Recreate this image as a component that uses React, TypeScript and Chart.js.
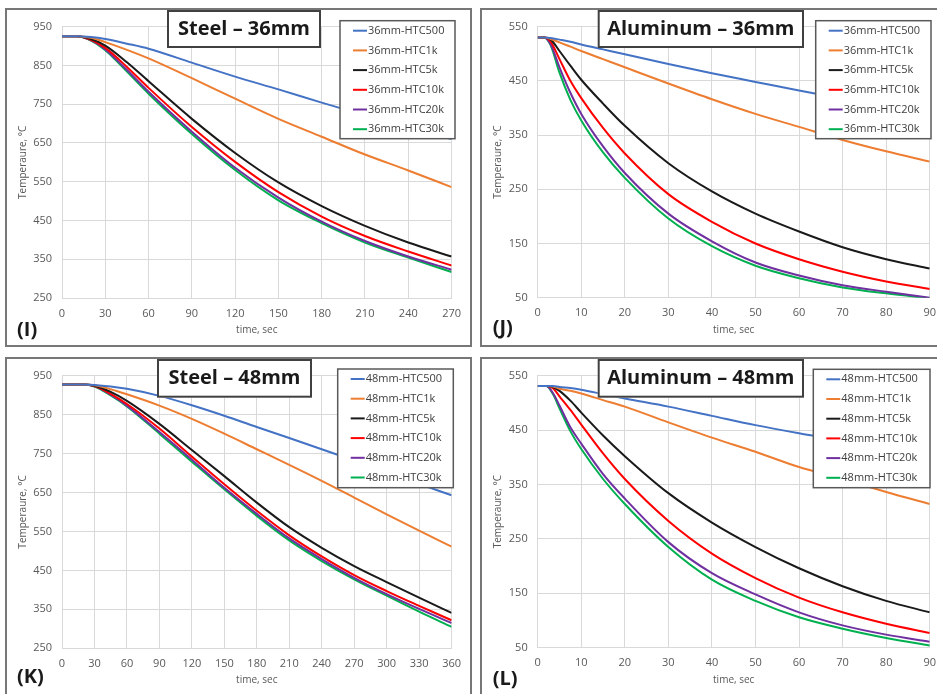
import React, { useEffect, useRef } from "react";
import { Chart, registerables } from "chart.js";

Chart.register(...registerables);

// ---------- DATA ----------
const htcLabels = ["HTC500", "HTC1k", "HTC5k", "HTC10k", "HTC20k", "HTC30k"];
const htcColors = ["#4472C4", "#ED7D31", "#1a1a1a", "#FF0000", "#7030A0", "#00B050"];

// Steel 36mm (time, sec)
const steel36Time = [0, 10, 20, 30, 45, 60, 90, 120, 150, 180, 210, 240, 270];
const steel36HTC500 = [925, 925, 923, 918, 906, 893, 857, 821, 788, 754, 721, 690, 660];
const steel36HTC1k = [925, 925, 921, 910, 890, 868, 817, 764, 712, 666, 620, 579, 536];
const steel36HTC5k = [925, 925, 918, 901, 858, 809, 712, 624, 548, 487, 436, 393, 357];
const steel36HTC10k = [925, 925, 916, 895, 846, 792, 691, 601, 523, 460, 410, 370, 334];
const steel36HTC20k = [925, 925, 915, 891, 838, 782, 679, 586, 509, 447, 397, 357, 323];
const steel36HTC30k = [925, 925, 914, 889, 834, 777, 673, 580, 502, 443, 393, 354, 317];

// Aluminum 36mm
const alu36Time = [0, 1.5, 3, 5, 7.5, 10, 15, 20, 30, 40, 50, 60, 70, 80, 90];
const alu36HTC500 = [530, 530, 529, 526, 522, 517, 508, 499, 481, 464, 448, 432, 417, 403, 389];
const alu36HTC1k = [530, 530, 527, 521, 513, 505, 490, 475, 445, 416, 389, 365, 341, 320, 301];
const alu36HTC5k = [530, 530, 526, 505, 478, 452, 408, 367, 298, 246, 205, 172, 143, 121, 104];
const alu36HTC10k = [530, 530, 522, 490, 450, 418, 363, 316, 241, 190, 150, 121, 98, 80, 66];
const alu36HTC20k = [530, 530, 517, 475, 428, 389, 329, 280, 205, 154, 115, 91, 73, 61, 50];
const alu36HTC30k = [530, 530, 515, 465, 415, 377, 318, 271, 196, 145, 109, 86, 69, 58, 49];

// Steel 48mm
const steel48Time = [0, 20, 30, 45, 60, 90, 120, 150, 180, 210, 240, 270, 300, 330, 360];
const steel48HTC500 = [927, 927, 926, 922, 916, 898, 874, 847, 818, 790, 761, 732, 702, 672, 643];
const steel48HTC1k = [927, 927, 925, 915, 902, 873, 839, 801, 761, 721, 680, 637, 594, 552, 511];
const steel48HTC5k = [927, 927, 924, 908, 885, 826, 759, 692, 624, 561, 508, 461, 420, 380, 341];
const steel48HTC10k = [927, 927, 923, 903, 877, 814, 742, 671, 603, 540, 486, 438, 397, 359, 322];
const steel48HTC20k = [927, 927, 923, 901, 873, 805, 734, 662, 595, 532, 479, 431, 389, 351, 315];
const steel48HTC30k = [927, 927, 922, 899, 871, 801, 729, 658, 590, 527, 474, 427, 385, 344, 305];

// Aluminum 48mm
const alu48Time = [0, 2, 3.5, 5, 7.5, 10, 15, 20, 30, 40, 50, 60, 70, 80, 90];
const alu48HTC500 = [531, 531, 531, 529, 527, 524, 516, 508, 493, 476, 459, 444, 430, 414, 398];
const alu48HTC1k = [531, 531, 530, 526, 522, 517, 505, 493, 464, 436, 410, 382, 360, 336, 314];
const alu48HTC5k = [531, 531, 529, 522, 504, 482, 440, 402, 334, 280, 235, 196, 163, 136, 115];
const alu48HTC10k = [531, 531, 527, 512, 487, 460, 407, 360, 283, 223, 178, 142, 115, 94, 77];
const alu48HTC20k = [531, 531, 518, 495, 455, 425, 369, 324, 244, 187, 148, 115, 91, 74, 61];
const alu48HTC30k = [531, 531, 516, 490, 448, 415, 360, 314, 235, 175, 136, 106, 85, 68, 54];

// ---------- LAYOUT / STYLE ----------
type Panel = {
  key: string;
  title: string;
  tag: string;
  prefix: string;
  time: number[];
  series: number[][];
  xMax: number;
  xStep: number;
  yMin: number;
  yMax: number;
  box: [number, number];
  pad: { top: number; right: number; bottom: number };
  yAxisW: number;
  titleBox: [number, number, number, number];
  legendBox: [number, number, number, number];
  tagPos: [number, number];
};

const panels: Panel[] = [
  {
    key: "I", title: "Steel \u2013 36mm", tag: "(I)", prefix: "36mm-",
    time: steel36Time,
    series: [steel36HTC500, steel36HTC1k, steel36HTC5k, steel36HTC10k, steel36HTC20k, steel36HTC30k],
    xMax: 270, xStep: 30, yMin: 250, yMax: 950,
    box: [5, 8], pad: { top: 10.7, right: 17, bottom: 7 }, yAxisW: 55,
    titleBox: [160, 0, 154, 38], legendBox: [333, 10.7, 115, 118], tagPos: [10, 320],
  },
  {
    key: "J", title: "Aluminum \u2013 36mm", tag: "(J)", prefix: "36mm-",
    time: alu36Time,
    series: [alu36HTC500, alu36HTC1k, alu36HTC5k, alu36HTC10k, alu36HTC20k, alu36HTC30k],
    xMax: 90, xStep: 10, yMin: 50, yMax: 550,
    box: [480, 8], pad: { top: 10, right: 12.3, bottom: 7.3 }, yAxisW: 55.7,
    titleBox: [115.7, 0, 206.3, 38], legendBox: [333.7, 10.7, 115.3, 118], tagPos: [10.7, 318],
  },
  {
    key: "K", title: "Steel \u2013 48mm", tag: "(K)", prefix: "48mm-",
    time: steel48Time,
    series: [steel48HTC500, steel48HTC1k, steel48HTC5k, steel48HTC10k, steel48HTC20k, steel48HTC30k],
    xMax: 360, xStep: 30, yMin: 250, yMax: 950,
    box: [5, 357], pad: { top: 12, right: 17, bottom: 5.7 }, yAxisW: 55,
    titleBox: [150, 0, 155, 38.7], legendBox: [330.7, 10, 115.6, 118.7], tagPos: [10, 318.5],
  },
  {
    key: "L", title: "Aluminum \u2013 48mm", tag: "(L)", prefix: "48mm-",
    time: alu48Time,
    series: [alu48HTC500, alu48HTC1k, alu48HTC5k, alu48HTC10k, alu48HTC20k, alu48HTC30k],
    xMax: 90, xStep: 10, yMin: 50, yMax: 550,
    box: [480, 357], pad: { top: 11, right: 12.3, bottom: 6.3 }, yAxisW: 55.7,
    titleBox: [115.7, 0, 206.3, 38.7], legendBox: [331.3, 10.3, 116.7, 118.4], tagPos: [10.7, 320],
  },
];

const CANVAS_W = 463;
const CANVAS_H = 335;
const X_AXIS_H = 40;
const FONT = '"Open Sans", "DejaVu Sans", sans-serif';
const TICK_COLOR = "#595959";
const GRID_COLOR = "#d9d9d9";

const overlayPlugin = {
  id: "overlay",
  afterDraw(chart: any, _args: any, o: any) {
    const ctx = chart.ctx as CanvasRenderingContext2D;
    ctx.save();
    // legend box
    const [lx, ly, lw, lh] = o.legendBox;
    ctx.fillStyle = "#ffffff";
    ctx.fillRect(lx, ly, lw, lh);
    ctx.strokeStyle = "#595959";
    ctx.lineWidth = 1.5;
    ctx.strokeRect(lx, ly, lw, lh);
    ctx.font = `11px ${FONT}`;
    ctx.textBaseline = "middle";
    ctx.textAlign = "left";
    chart.data.datasets.forEach((ds: any, i: number) => {
      const y = ly + 10 + i * 19.7;
      ctx.strokeStyle = ds.borderColor;
      ctx.lineWidth = 2;
      ctx.beginPath();
      ctx.moveTo(lx + 13, y);
      ctx.lineTo(lx + 27, y);
      ctx.stroke();
      ctx.fillStyle = "#404040";
      ctx.fillText(ds.label, lx + 28, y);
    });
    // title box
    const [tx, ty, tw, th] = o.titleBox;
    ctx.fillStyle = "#ffffff";
    ctx.fillRect(tx, ty, tw, th);
    ctx.strokeStyle = "#404040";
    ctx.lineWidth = 2;
    ctx.strokeRect(tx + 1, ty + 1, tw - 2, th - 2);
    ctx.fillStyle = "#1a1a1a";
    ctx.font = `bold 20px ${FONT}`;
    ctx.textAlign = "center";
    ctx.fillText(o.title, tx + tw / 2, ty + th / 2);
    // panel tag
    ctx.textAlign = "left";
    ctx.font = `bold 20px ${FONT}`;
    ctx.fillStyle = "#1a1a1a";
    ctx.fillText(o.tag, o.tagPos[0], o.tagPos[1]);
    ctx.restore();
  },
};

function PanelChart({ p }: { p: Panel }) {
  const ref = useRef<HTMLCanvasElement | null>(null);
  useEffect(() => {
    if (!ref.current) return;
    const datasets = p.series.map((vals, i) => ({
      label: p.prefix + htcLabels[i],
      data: p.time.map((t, j) => ({ x: t, y: vals[j] })),
      borderColor: htcColors[i],
      backgroundColor: htcColors[i],
      borderWidth: 2,
      pointRadius: 0,
      fill: false,
      cubicInterpolationMode: "monotone" as const,
    }));
    const chart = new Chart(ref.current, {
      type: "line",
      data: { datasets },
      plugins: [overlayPlugin],
      options: {
        animation: false,
        responsive: false,
        devicePixelRatio: 1,
        layout: { padding: { left: 0, top: p.pad.top, right: p.pad.right, bottom: p.pad.bottom } },
        plugins: {
          legend: { display: false },
          tooltip: { enabled: false },
          overlay: {
            legendBox: p.legendBox,
            titleBox: p.titleBox,
            title: p.title,
            tag: p.tag,
            tagPos: p.tagPos,
          },
        } as any,
        scales: {
          x: {
            type: "linear",
            min: 0,
            max: p.xMax,
            ticks: {
              stepSize: p.xStep,
              color: TICK_COLOR,
              font: { family: FONT, size: 11 },
              padding: 9,
              maxRotation: 0,
              autoSkip: false,
            },
            grid: { color: GRID_COLOR, drawTicks: false },
            border: { color: GRID_COLOR },
            title: {
              display: true,
              text: "time, sec",
              color: TICK_COLOR,
              font: { family: FONT, size: 10 },
              padding: { top: 0, bottom: 2 },
            },
            afterFit: (s: any) => {
              s.height = X_AXIS_H;
            },
          },
          y: {
            type: "linear",
            min: p.yMin,
            max: p.yMax,
            ticks: {
              stepSize: 100,
              color: TICK_COLOR,
              font: { family: FONT, size: 11 },
              padding: 10,
            },
            grid: { color: GRID_COLOR, drawTicks: false },
            border: { color: GRID_COLOR },
            title: {
              display: true,
              text: "Temperaure, \u00B0C",
              color: TICK_COLOR,
              font: { family: FONT, size: 10 },
              padding: { top: 10, bottom: 0 },
            },
            afterFit: (s: any) => {
              s.width = p.yAxisW;
            },
          },
        },
      },
    });
    return () => chart.destroy();
  }, [p]);

  return (
    <div
      style={{
        position: "absolute",
        left: p.box[0],
        top: p.box[1],
        width: CANVAS_W + 4,
        height: CANVAS_H + 4,
        boxSizing: "border-box",
        border: "2px solid #777777",
        background: "#ffffff",
      }}
    >
      <canvas
        ref={ref}
        width={CANVAS_W}
        height={CANVAS_H}
        style={{ display: "block", width: CANVAS_W, height: CANVAS_H }}
      />
    </div>
  );
}

export default function App() {
  return (
    <div
      style={{
        position: "fixed",
        left: 0,
        top: 0,
        width: 937,
        height: 694,
        overflow: "hidden",
        background: "#ffffff",
      }}
    >
      {panels.map((p) => (
        <PanelChart key={p.key} p={p} />
      ))}
    </div>
  );
}
